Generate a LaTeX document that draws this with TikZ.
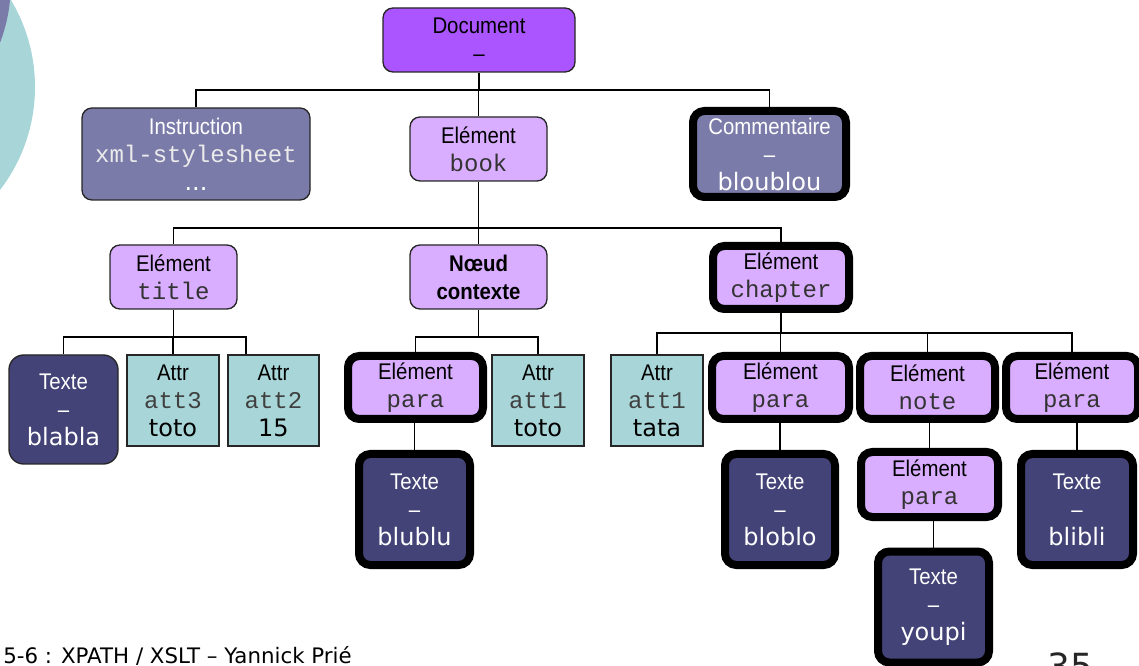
\documentclass[tikz,border=0pt]{standalone}
\usepackage{fontspec}
\setmainfont{Liberation Sans}
\newfontfamily\narrowsf{Liberation Sans}[FakeStretch=0.9]
\newfontfamily\codett{Liberation Mono}
\newfontfamily\widesf{DejaVu Sans}

\definecolor{docpurple}{HTML}{AA55FF}
\definecolor{elpurple}{HTML}{D9ADFF}
\definecolor{greyviolet}{HTML}{7B7BAA}
\definecolor{textnavy}{HTML}{434377}
\definecolor{attrteal}{HTML}{A8D6D8}

% text helpers: condensed labels, code names, values
\newcommand\nlab[1]{{\narrowsf\fontsize{17}{21}\selectfont #1}}
\newcommand\code[1]{{\codett\fontsize{18}{21}\selectfont #1}}
\newcommand\val[1]{{\widesf\fontsize{18}{21}\selectfont #1}}

\tikzset{
  sz/.style 2 args={minimum width=#1*0.75pt, minimum height=#2*0.75pt},
  box/.style={draw=black!85, line width=1pt, rounded corners=7.5pt, align=center,
    inner sep=0pt, font=\fontsize{17}{21}\selectfont},
  heavy/.style={draw=black, line width=6pt, rounded corners=8.5pt},
  docbox/.style={box, fill=docpurple, text=black},
  elbox/.style={box, fill=elpurple, text=black},
  greybox/.style={box, fill=greyviolet, text=white},
  txtbox/.style={box, fill=textnavy, text=white, rounded corners=11pt},
  attrbox/.style={box, fill=attrteal, text=black, rounded corners=0pt},
  link/.style={draw=black, line width=1pt},
}

\begin{document}
\begin{tikzpicture}[x=0.75pt,y=-0.75pt]
\useasboundingbox (0,0) rectangle (1139,666);

% decorative discs in the upper left corner
\fill[attrteal] (-134,87) circle[radius=169];
\fill[greyviolet] (-150,-15) circle[radius=160.7];

% root
\node[docbox, sz={192}{64}] (doc) at (479,40) {\nlab{Document}\\\nlab{–}};

% level 1
\node[greybox, sz={228}{92}] (instr) at (196,154)
  {\nlab{Instruction}\\\code{\color{white!92!black}xml-stylesheet}\\\val{...}};
\node[elbox, sz={137}{64}] (book) at (478.5,149) {\nlab{Elément}\\\code{\color{black!80}book}};
\node[greybox, heavy, sz={153}{86}] (comm) at (769.5,154)
  {\nlab{Commentaire}\\\nlab{–}\\\val{bloublou}};

% level 2
\node[elbox, sz={127}{64}] (title) at (173.5,277) {\nlab{Elément}\\\code{\color{black!80}title}};
\node[elbox, sz={137}{64}] (ctx) at (478.5,277)
  {\nlab{\bfseries Nœud}\\\nlab{\bfseries contexte}};
\node[elbox, heavy, sz={136}{63}] (chapter) at (781,277.5)
  {\nlab{Elément}\\\code{\color{black!80}chapter}};

% level 3
\node[txtbox, sz={109}{109}] (blabla) at (63.5,409.5) {\nlab{Texte}\\\nlab{–}\\\val{blabla}};
\node[attrbox, sz={92}{91}] (att3) at (173,400.5)
  {\nlab{Attr}\\\code{\color{black!75}att3}\\\val{toto}};
\node[attrbox, sz={91}{91}] (att2) at (273.5,400.5)
  {\nlab{Attr}\\\code{\color{black!75}att2}\\\val{15}};
\node[elbox, heavy, sz={135}{63}] (paraA) at (415.5,387.5)
  {\nlab{Elément}\\\code{\color{black!80}para}};
\node[attrbox, sz={92}{91}] (att1a) at (538,400.5)
  {\nlab{Attr}\\\code{\color{black!75}att1}\\\val{toto}};
\node[attrbox, sz={92}{91}] (att1b) at (657,400.5)
  {\nlab{Attr}\\\code{\color{black!75}att1}\\\val{tata}};
\node[elbox, heavy, sz={137}{63}] (paraB) at (780.5,387.5)
  {\nlab{Elément}\\\code{\color{black!80}para}};
\node[elbox, heavy, sz={135}{63}] (note) at (927.5,387.5)
  {\nlab{Elément}\\\code{\color{black!80}note}};
\node[elbox, heavy, sz={132}{63}] (paraC) at (1072,387.5)
  {\nlab{Elément}\\\code{\color{black!80}para}};

% level 4
\node[txtbox, heavy, sz={111}{111}] (blublu) at (414.5,509.5)
  {\nlab{Texte}\\\nlab{–}\\\val{blublu}};
\node[txtbox, heavy, sz={110}{111}] (bloblo) at (780,509.5)
  {\nlab{Texte}\\\nlab{–}\\\val{bloblo}};
\node[elbox, heavy, sz={137}{65}] (paraD) at (929.5,484.5)
  {\nlab{Elément}\\\code{\color{black!80}para}};
\node[txtbox, heavy, sz={112}{111}] (blibli) at (1077,509.5)
  {\nlab{Texte}\\\nlab{–}\\\val{blibli}};

% level 5
\node[txtbox, heavy, sz={111}{111}] (youpi) at (933.5,607)
  {\nlab{Texte}\\\nlab{–}\\\val{youpi}};

% footer
\node[anchor=base west, inner sep=0pt, font=\widesf\fontsize{16}{20}\selectfont] (foot)
  at (3,663) {5-6 : XPATH / XSLT – Yannick Prié};
\node[anchor=north west, inner sep=0pt, text=black!85,
  font=\widesf\fontsize{27}{30}\selectfont] (pageno) at (1047,653) {35};

% connector bar heights
\coordinate (barA) at (0,90);
\coordinate (barB) at (0,228);
\coordinate (barC) at (0,337);
\coordinate (barD) at (0,333);

% connectors: a bar under each parent, then straight drops
\draw[link] (doc.south) -- (doc.south |- barA) -| (instr.north);
\draw[link] (doc.south |- barA) -| (comm.north);
\draw[link] (doc.south |- barA) -| (book.north);

\draw[link] (book.south) -- (book.south |- barB) -| (title.north);
\draw[link] (book.south |- barB) -| (chapter.north);
\draw[link] (book.south |- barB) -| (ctx.north);

\draw[link] (title.south) -- (title.south |- barC) -| (blabla.north);
\draw[link] (title.south |- barC) -| ([xshift=-20.6pt]att2.north);
\draw[link] (title.south |- barC) -| (att3.north);

\draw[link] (ctx.south) -- (ctx.south |- barC) -| (paraA.north);
\draw[link] (ctx.south |- barC) -| (att1a.north);

\draw[link] (chapter.south) -- (chapter.south |- barD) -| (att1b.north);
\draw[link] (chapter.south |- barD) -| (paraC.north);
\draw[link] (chapter.south |- barD) -| (note.north);
\draw[link] (chapter.south |- barD) -| (paraB.north);

\draw[link] (blublu.north |- paraA.south) -- (blublu.north);
\draw[link] (bloblo.north |- paraB.south) -- (bloblo.north);
\draw[link] (paraD.north |- note.south) -- (paraD.north);
\draw[link] (blibli.north |- paraC.south) -- (blibli.north);
\draw[link] (youpi.north |- paraD.south) -- (youpi.north);
\end{tikzpicture}
\end{document}
